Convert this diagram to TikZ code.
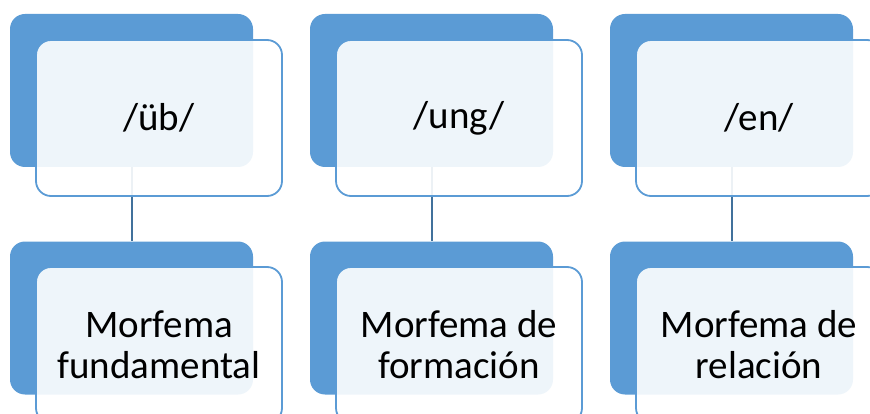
\documentclass[tikz,border=0pt]{standalone}
\usepackage{fontspec}
\setmainfont{Carlito}
\usepackage{xcolor}
\definecolor{boxblue}{HTML}{5B9BD5}
\definecolor{linkblue}{HTML}{41719C}

\begin{document}
\begin{tikzpicture}[x=1pt, y=-1pt,
  backbox/.style={fill=boxblue, rounded corners=15pt, minimum width=243pt, minimum height=153pt, inner sep=0pt},
  frontbox/.style={draw=boxblue, line width=1.8pt, fill=white, fill opacity=0.9, text opacity=1, rounded corners=15pt, minimum width=246pt, minimum height=156pt, inner sep=0pt, align=center, font=\fontsize{39}{41}\selectfont},
  link/.style={draw=linkblue, line width=2pt}]
  \useasboundingbox (0,0) rectangle (870,414);
  \clip (0,0) rectangle (870,414);
  % back boxes
  \node[backbox] (ubback) at (131.5,90.5) {};
  \node[backbox] (ungback) at (431.5,90.5) {};
  \node[backbox] (enback) at (731.5,90.5) {};
  \node[backbox] (fundback) at (131.5,318) {};
  \node[backbox] (formback) at (431.5,318) {};
  \node[backbox] (relback) at (731.5,318) {};
  % links
  \draw[link] (ubback.south) -- (fundback.north);
  \draw[link] (ungback.south) -- (formback.north);
  \draw[link] (enback.south) -- (relback.north);
  % front boxes
  \node[frontbox] (ub) at (159,118) {/üb/};
  \node[frontbox] (ung) at (459,118) {/ung/};
  \node[frontbox] (en) at (759,118) {/en/};
  \node[frontbox] (fund) at (159,345) {Morfema\\fundamental};
  \node[frontbox] (form) at (459,345) {Morfema de\\formación};
  \node[frontbox] (rel) at (759,345) {Morfema de\\relación};
\end{tikzpicture}
\end{document}
